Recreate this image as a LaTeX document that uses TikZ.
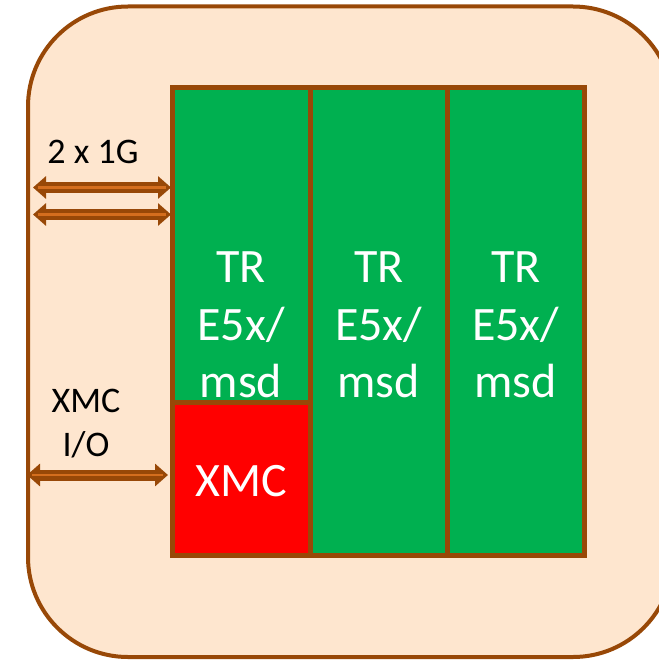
\documentclass[tikz,border=0pt]{standalone}
\usepackage{fontspec}
\setmainfont{Carlito}
\usetikzlibrary{arrows.meta}
\definecolor{brn}{HTML}{984807}
\definecolor{peach}{HTML}{FEE6CF}
\definecolor{grn}{HTML}{00B050}
\definecolor{ornge}{HTML}{D46E1E}
\definecolor{xred}{HTML}{FF0000}
\tikzset{
  card/.style={draw=brn, line width=5bp, fill=grn, rectangle, inner sep=0pt, outer sep=0pt},
  xmcbox/.style={draw=brn, line width=5bp, fill=xred, rectangle, inner sep=0pt, outer sep=0pt},
  bigtxt/.style={text=white, align=center, inner sep=0pt, font=\fontsize{48bp}{57.5bp}\selectfont},
  lbl/.style={text=black, align=center, inner sep=0pt, font=\fontsize{36bp}{44bp}\selectfont},
  linkouter/.style={draw=brn, line width=11bp, {Triangle[width=22bp,length=13bp]}-{Triangle[width=22bp,length=13bp]}},
  linkinner/.style={draw=ornge, line width=2.5bp, shorten <=5bp, shorten >=5bp}
}
\begin{document}
\begin{tikzpicture}[x=1bp,y=-1bp]
\useasboundingbox (0,0) rectangle (659,660);
\begin{scope}
  \clip (0,0) rectangle (659,660);
  \draw[brn, line width=4bp, fill=peach, rounded corners=100bp] (28,6.5) rectangle (673,657);
\end{scope}
% cards
\node[card, minimum width=138bp, minimum height=468bp] (c1) at (241,321.5) {};
\node[card, minimum width=137.5bp, minimum height=468bp] (c2) at (378.75,321.5) {};
\node[card, minimum width=136.5bp, minimum height=468bp] (c3) at (515.75,321.5) {};
\node[xmcbox, minimum width=138bp, minimum height=153bp] (xmc) at (241,479) {};
% texts
\node[bigtxt] (t1) at (241,325) {TR\\E5x/\\msd};
\node[bigtxt] (t2) at (378.75,325) {TR\\E5x/\\msd};
\node[bigtxt] (t3) at (515.75,325) {TR\\E5x/\\msd};
\node[bigtxt] (tx) at (241,481) {XMC};
\node[lbl] (l1) at (93,152) {2 x 1G};
\node[lbl] (l2) at (86,424) {XMC\\I/O};
% arrow ends
\coordinate (a1l) at (33,187.5);
\coordinate (a1r) at (171,187.5);
\coordinate (a2l) at (33,214.5);
\coordinate (a2r) at (171,214.5);
\coordinate (a3l) at (27,475);
\coordinate (a3r) at (168,475);
\draw[linkouter] (a1l) -- (a1r);
\draw[linkinner] (a1l) -- (a1r);
\draw[linkouter] (a2l) -- (a2r);
\draw[linkinner] (a2l) -- (a2r);
\draw[linkouter] (a3l) -- (a3r);
\draw[linkinner] (a3l) -- (a3r);
\end{tikzpicture}
\end{document}
